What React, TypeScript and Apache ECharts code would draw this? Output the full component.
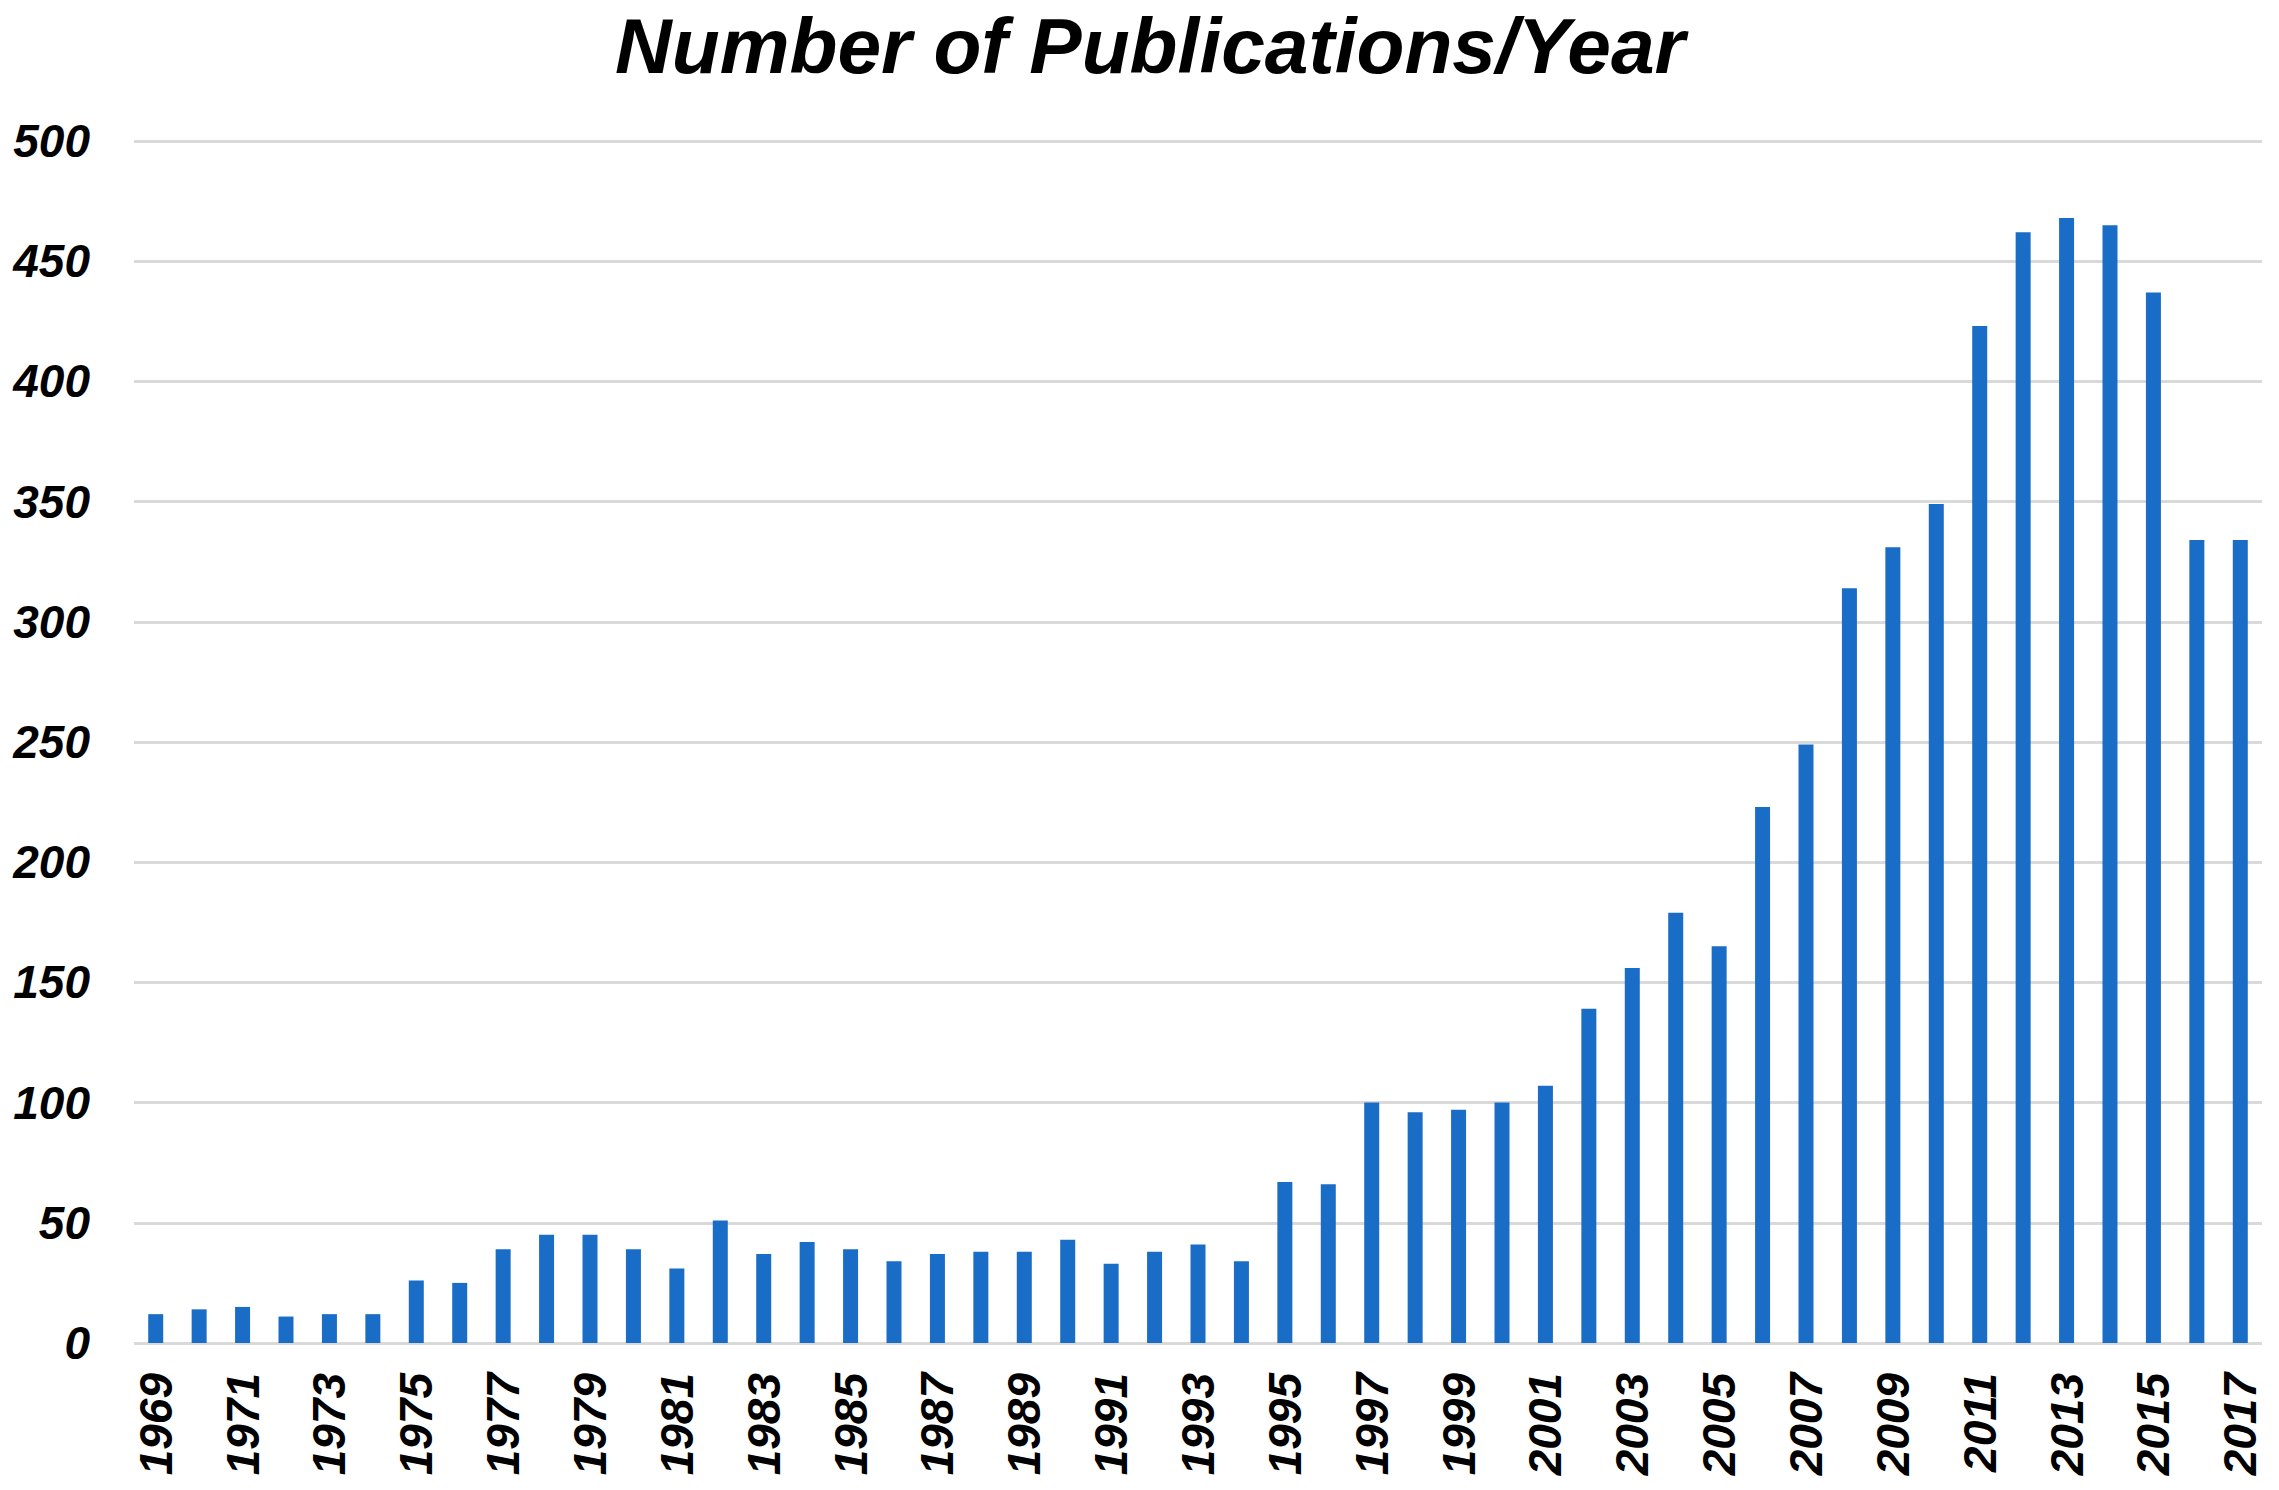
import React, { useEffect, useRef } from "react";
import * as echarts from "echarts";

const years: string[] = [];
for (let y = 1969; y <= 2017; y++) years.push(String(y));

const publications = [
  12, 14, 15, 11, 12, 12, 26, 25, 39, 45,
  45, 39, 31, 51, 37, 42, 39, 34, 37, 38,
  38, 43, 33, 38, 41, 34, 67, 66, 100, 96,
  97, 100, 107, 139, 156, 179, 165, 223, 249, 314,
  331, 349, 423, 462, 468, 465, 437, 334, 334,
];

const titleText = "Number of Publications/Year";
const yMin = 0;
const yMax = 500;
const yStep = 50;

export default function App() {
  const ref = useRef<HTMLDivElement>(null);
  useEffect(() => {
    if (!ref.current) return;
    const chart = echarts.init(ref.current, undefined, { renderer: "svg" });
    const font = "'Liberation Sans', Arial, sans-serif";
    chart.setOption({
      animation: false,
      backgroundColor: "#ffffff",
      title: {
        text: titleText,
        left: 610,
        top: 1,
        textStyle: {
          fontFamily: font,
          fontSize: 78.5,
          fontWeight: "bold",
          fontStyle: "italic",
          color: "#000000",
        },
      },
      grid: { left: 134, right: 17, top: 141, bottom: 147, containLabel: false },
      xAxis: {
        type: "category",
        data: years,
        axisLine: { show: false },
        axisTick: { show: false },
        axisLabel: {
          interval: 1,
          rotate: 90,
          margin: 30,
          fontFamily: font,
          fontSize: 46,
          fontWeight: "bold",
          fontStyle: "italic",
          color: "#000000",
        },
      },
      yAxis: {
        type: "value",
        min: yMin,
        max: yMax,
        interval: yStep,
        axisLine: { show: false },
        axisTick: { show: false },
        splitLine: { lineStyle: { color: "#d9d9d9", width: 3 } },
        axisLabel: {
          margin: 44,
          fontFamily: font,
          fontSize: 46,
          fontWeight: "bold",
          fontStyle: "italic",
          color: "#000000",
        },
      },
      series: [
        {
          type: "bar",
          data: publications,
          barWidth: 15,
          itemStyle: { color: "#1a6dc6" },
        },
      ],
    });
    return () => chart.dispose();
  }, []);
  return (
    <div
      ref={ref}
      style={{ position: "absolute", left: 0, top: 0, width: 2279, height: 1490 }}
    />
  );
}
